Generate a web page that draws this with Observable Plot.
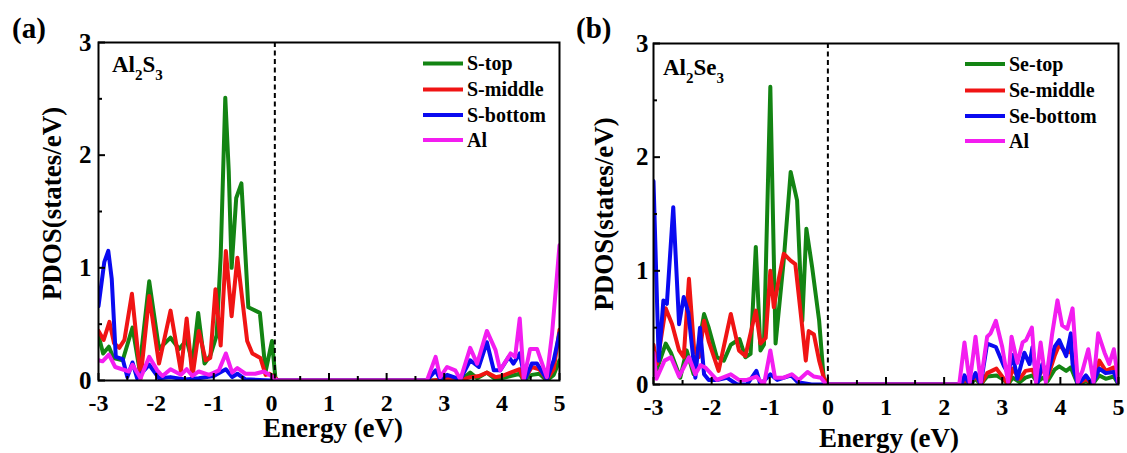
<!DOCTYPE html>
<html><head><meta charset="utf-8">
<script src="https://cdn.jsdelivr.net/npm/d3@7"></script>
<script src="https://cdn.jsdelivr.net/npm/@observablehq/plot@0.6"></script>
<style>
body{margin:0;background:#fff}
#wrap{position:relative;width:1127px;height:453px;overflow:hidden;background:#fff}
.panel{position:absolute;top:0}
#over{position:absolute;left:0;top:0;pointer-events:none}
</style></head><body><div id="wrap"></div>
<script>
// ---------- data (Energy eV, PDOS states/eV) ----------
const xTicks = [-3, -2, -1, 0, 1, 2, 3, 4, 5];
const xMinorTicks = [-2.5, -1.5, -0.5, 0.5, 1.5, 2.5, 3.5, 4.5];
const yTicks = [0, 1, 2, 3];
const yMinorTicks = [0.5, 1.5, 2.5];
const xTitle = "Energy (eV)";
const yTitle = "PDOS(states/eV)";
const colors = ["#138413", "#f01414", "#0a0af0", "#f31df0"];

// (a) Al2S3
const namesA = ["S-top", "S-middle", "S-bottom", "Al"];
const fermiA = 0.06;
const aStop = [[-3,0.40],[-2.92,0.24],[-2.82,0.30],[-2.74,0.20],[-2.58,0.18],[-2.41,0.47],[-2.29,0.10],[-2.12,0.88],[-1.95,0.28],[-1.75,0.38],[-1.60,0.28],[-1.47,0.36],[-1.37,0.15],[-1.27,0.60],[-1.16,0.15],[-1.06,0.22],[-0.95,0.40],[-0.88,1.10],[-0.80,2.51],[-0.74,1.86],[-0.69,1.00],[-0.61,1.62],[-0.52,1.75],[-0.40,0.65],[-0.20,0.60],[-0.10,0.08],[0.01,0.35],[0.07,0.02],[0.12,0],[2.80,0],[2.93,0],[3.28,0],[3.45,0.07],[3.57,0.02],[3.74,0.07],[3.89,0.01],[4.0,0.02],[4.15,0.04],[4.31,0.06],[4.38,0],[4.52,0.05],[4.65,0.06],[4.78,0],[4.90,0.05],[5.0,0.18]];
const aSmid = [[-3,0.44],[-2.91,0.36],[-2.81,0.52],[-2.73,0.33],[-2.64,0.29],[-2.55,0.36],[-2.42,0.77],[-2.27,0.02],[-2.12,0.75],[-1.95,0.15],[-1.75,0.62],[-1.57,0.08],[-1.47,0.55],[-1.37,0.03],[-1.26,0.44],[-1.14,0.18],[-1.06,0.20],[-0.97,0.81],[-0.88,0.31],[-0.79,1.15],[-0.69,0.57],[-0.59,1.09],[-0.42,0.35],[-0.33,0.24],[-0.19,0.20],[-0.10,0.05],[-0.03,0.06],[0.07,0.02],[0.12,0],[2.80,0],[3.10,0.02],[3.28,0],[3.45,0.03],[3.60,0.04],[3.74,0.07],[3.89,0.03],[4.0,0.04],[4.15,0.07],[4.31,0.10],[4.38,0],[4.52,0.12],[4.65,0.10],[4.78,0.01],[4.90,0.10],[5.0,0.45]];
const aSbot = [[-3,0.66],[-2.90,1.05],[-2.83,1.15],[-2.77,0.90],[-2.70,0.21],[-2.58,0.19],[-2.50,0.03],[-2.41,0.16],[-2.33,0.02],[-2.12,0.14],[-1.95,0.02],[-1.75,0.03],[-1.50,0.01],[-1.26,0.02],[-1.0,0.04],[-0.79,0.10],[-0.68,0.03],[-0.59,0.06],[-0.45,0.01],[0,0],[2.70,0],[2.85,0.09],[2.93,0.01],[3.05,0.05],[3.28,0.01],[3.45,0.18],[3.60,0.12],[3.74,0.34],[3.86,0.09],[3.97,0.09],[4.12,0.21],[4.20,0.15],[4.31,0.24],[4.40,0.01],[4.52,0.15],[4.61,0.15],[4.78,0.01],[4.90,0.18],[5.0,0.42]];
const aAl = [[-3,0.18],[-2.93,0.17],[-2.82,0.23],[-2.71,0.12],[-2.47,0.08],[-2.41,0.14],[-2.27,0.02],[-2.12,0.21],[-1.98,0.09],[-1.89,0.04],[-1.75,0.10],[-1.57,0.05],[-1.47,0.10],[-1.37,0.04],[-1.26,0.08],[-1.08,0.05],[-0.91,0.09],[-0.79,0.24],[-0.68,0.07],[-0.59,0.11],[-0.45,0.06],[-0.28,0.06],[-0.13,0.08],[0,0.04],[0.10,0],[2.70,0],[2.85,0.21],[2.93,0.03],[3.05,0.12],[3.19,0.09],[3.28,0.01],[3.45,0.29],[3.57,0.15],[3.74,0.44],[3.89,0.27],[3.97,0.09],[4.15,0.24],[4.23,0.21],[4.31,0.55],[4.38,0.01],[4.49,0.28],[4.61,0.28],[4.78,0.03],[4.87,0.41],[5.0,1.20]];

// (b) Al2Se3
const namesB = ["Se-top", "Se-middle", "Se-bottom", "Al"];
const fermiB = 0.0;
const bSetop = [[-3,0.20],[-2.95,0.12],[-2.79,0.36],[-2.70,0.28],[-2.54,0.06],[-2.43,0.30],[-2.31,0.09],[-2.13,0.62],[-2.05,0.50],[-1.91,0.24],[-1.79,0.21],[-1.67,0.35],[-1.52,0.40],[-1.42,0.24],[-1.33,0.27],[-1.24,1.21],[-1.16,0.30],[-1.10,0.35],[-0.99,2.62],[-0.90,0.36],[-0.76,1.09],[-0.64,1.87],[-0.53,1.62],[-0.44,0.56],[-0.37,1.37],[-0.27,1.03],[-0.15,0.56],[-0.07,0.04],[0,0],[2.30,0],[2.35,0.03],[2.44,0],[2.54,0.05],[2.63,0],[2.74,0.07],[2.90,0.08],[3.03,0.04],[3.10,0],[3.18,0.06],[3.30,0.02],[3.40,0.06],[3.52,0.08],[3.60,0.02],[3.70,0.06],[3.78,0.03],[3.90,0.13],[3.98,0.16],[4.10,0.12],[4.18,0.15],[4.30,0],[4.44,0.03],[4.55,0],[4.67,0.08],[4.78,0.05],[4.92,0.07],[5.0,0]];
const bSemid = [[-3,0.35],[-2.94,0.18],[-2.79,0.67],[-2.68,0.53],[-2.56,0.30],[-2.48,0.24],[-2.39,0.93],[-2.30,0.30],[-2.22,0.24],[-2.13,0.56],[-2.05,0.38],[-1.88,0.12],[-1.67,0.62],[-1.53,0.30],[-1.42,0.25],[-1.24,0.65],[-1.16,0.36],[-1.07,0.41],[-0.99,1.00],[-0.93,0.68],[-0.84,0.94],[-0.76,1.15],[-0.64,1.09],[-0.56,1.06],[-0.44,0.50],[-0.38,0.21],[-0.33,0.47],[-0.24,0.44],[-0.15,0.21],[-0.07,0.06],[0,0],[2.30,0],[2.35,0.05],[2.44,0],[2.54,0.08],[2.63,0],[2.74,0.10],[2.90,0.14],[3.03,0.05],[3.10,0],[3.18,0.14],[3.30,0.05],[3.40,0.12],[3.52,0.13],[3.60,0.04],[3.70,0.14],[3.78,0.06],[3.90,0.25],[3.98,0.35],[4.10,0.28],[4.18,0.30],[4.30,0],[4.44,0.05],[4.55,0],[4.67,0.21],[4.78,0.12],[4.92,0.15],[5.0,0]];
const bSebot = [[-3,1.79],[-2.91,0.21],[-2.83,0.74],[-2.77,0.71],[-2.66,1.56],[-2.56,0.53],[-2.48,0.77],[-2.40,0.63],[-2.28,0.06],[-2.20,0.50],[-2.13,0.09],[-2.05,0.04],[-1.91,0.04],[-1.74,0.06],[-1.56,0],[-1.39,0],[-1.23,0.12],[-1.16,0],[-0.99,0.09],[-0.87,0.04],[-0.63,0.08],[-0.52,0.02],[-0.28,0],[2.30,0],[2.35,0.08],[2.44,0],[2.54,0.10],[2.63,0],[2.74,0.36],[2.89,0.33],[3.03,0.16],[3.10,0.10],[3.18,0.26],[3.26,0.05],[3.38,0.28],[3.47,0.18],[3.52,0.33],[3.60,0],[3.69,0.18],[3.78,0.09],[3.90,0.33],[3.98,0.39],[4.10,0.25],[4.18,0.45],[4.21,0.18],[4.30,0],[4.44,0.08],[4.55,0],[4.67,0.14],[4.78,0.10],[4.92,0.11],[5.0,0]];
const bAl = [[-3,0.28],[-2.95,0.05],[-2.81,0.21],[-2.70,0.24],[-2.56,0.07],[-2.39,0.24],[-2.28,0.09],[-2.19,0.17],[-2.11,0.15],[-1.91,0.04],[-1.67,0.09],[-1.53,0.04],[-1.39,0.04],[-1.23,0.07],[-1.10,0],[-0.99,0.30],[-0.91,0.06],[-0.76,0.06],[-0.62,0.09],[-0.50,0.04],[-0.35,0.11],[-0.24,0.07],[-0.12,0.06],[-0.03,0],[2.26,0],[2.35,0.37],[2.44,0.02],[2.54,0.42],[2.63,0.02],[2.74,0.42],[2.80,0.45],[2.89,0.56],[3.0,0.33],[3.10,0.02],[3.16,0.42],[3.26,0.19],[3.35,0.37],[3.41,0.39],[3.51,0.50],[3.58,0.02],[3.66,0.37],[3.75,0.02],[3.86,0.45],[3.95,0.74],[4.03,0.52],[4.12,0.49],[4.21,0.67],[4.30,0.02],[4.38,0.12],[4.48,0.31],[4.57,0.02],[4.65,0.45],[4.76,0.28],[4.84,0.18],[4.92,0.31],[5.0,0.02]];

// ---------- drawing ----------
const FONT = "'Liberation Serif','Times New Roman',serif";
const H = 453;

function makePanel(cfg) {
  const innerH = H - cfg.mt - cfg.mb;
  const innerW = cfg.width - cfg.ml - cfg.mr;
  const series = cfg.series.map((pts, i) => ({pts, color: colors[i]}));
  return Plot.plot({
    width: cfg.width, height: H,
    marginLeft: cfg.ml, marginRight: cfg.mr, marginTop: cfg.mt, marginBottom: cfg.mb,
    x: {domain: [-3, 5]},
    y: {domain: [0, 3]},
    style: {fontFamily: FONT, fontWeight: "bold", fontSize: "25px", color: "black", background: "transparent", overflow: "visible"},
    marks: [
      ...series.map(s => Plot.line(s.pts, {x: d => d[0], y: d => d[1], stroke: s.color, strokeWidth: 4, strokeLinejoin: "round", clip: true})),
      Plot.ruleX([cfg.fermi], {x: d => d, stroke: "black", strokeWidth: 2, strokeDasharray: "5,3.5"}),
      Plot.tickX(xTicks, {x: d => d, insetTop: innerH - 7, strokeWidth: 2}),
      Plot.tickX(xMinorTicks, {x: d => d, insetTop: innerH - 4, strokeWidth: 2}),
      Plot.tickY(yTicks, {y: d => d, insetRight: innerW - 7, strokeWidth: 2}),
      Plot.tickY(yMinorTicks, {y: d => d, insetRight: innerW - 4, strokeWidth: 2}),
      Plot.axisX({ticks: xTicks, tickSize: 0, tickPadding: 13, fontSize: 24, tickFormat: d => String(d), label: null}),
      Plot.axisY({ticks: yTicks, tickSize: 0, tickPadding: cfg.yPad, fontSize: 25, tickFormat: d => String(d), label: null}),
      Plot.frame({stroke: "black", strokeWidth: 2}),
      Plot.text([xTitle], {text: d => d, frameAnchor: "bottom", textAnchor: "middle", lineAnchor: "middle", dy: cfg.xTitleDy, dx: cfg.xTitleDx, fontSize: 27}),
      Plot.text([yTitle], {text: d => d, frameAnchor: "left", textAnchor: "middle", lineAnchor: "middle", dx: cfg.yTitleDx, dy: cfg.yTitleDy, rotate: -90, fontSize: 27})
    ]
  });
}

const wrap = document.getElementById("wrap");
function place(svg, left, width) {
  const d = document.createElement("div");
  d.className = "panel";
  d.style.left = left + "px";
  d.style.width = width + "px";
  d.appendChild(svg);
  wrap.appendChild(d);
}

place(makePanel({width: 563, ml: 98, mr: 4, mt: 42, mb: 73, fermi: fermiA,
  series: [aStop, aSmid, aSbot, aAl], yPad: 7, xTitleDy: 48, xTitleDx: 4, yTitleDx: -46, yTitleDy: -8}), 0, 563);
place(makePanel({width: 564, ml: 90, mr: 9, mt: 43, mb: 69, fermi: fermiB,
  series: [bSetop, bSemid, bSebot, bAl], yPad: 5, xTitleDy: 54, xTitleDx: 3, yTitleDx: -49, yTitleDy: 0}), 563, 564);

// overlay: panel letters, compound labels, legends
const over = d3.select(wrap).append("svg").attr("id", "over")
  .attr("width", 1127).attr("height", H)
  .style("font-family", FONT).style("font-weight", "bold");

over.append("text").attr("x", 12).attr("y", 38).attr("font-size", 29).text("(a)");
over.append("text").attr("x", 576).attr("y", 38).attr("font-size", 29).text("(b)");

function compound(x, y, parts) {
  const t = over.append("text").attr("x", x).attr("y", y).attr("font-size", 23);
  let sub = false;
  parts.forEach(p => {
    const isSub = /^[0-9]$/.test(p);
    const ts = t.append("tspan").text(p).attr("font-size", isSub ? 15 : 23);
    if (isSub && !sub) ts.attr("dy", 8);
    if (!isSub && sub) ts.attr("dy", -8);
    sub = isSub;
  });
}
compound(112, 72, ["Al", "2", "S", "3"]);
compound(663, 75, ["Al", "2", "Se", "3"]);

function legend(x0, x1, tx, ys, names) {
  names.forEach((n, i) => {
    over.append("line").attr("x1", x0).attr("x2", x1).attr("y1", ys[i]).attr("y2", ys[i])
      .attr("stroke", colors[i]).attr("stroke-width", 4);
    over.append("text").attr("x", tx).attr("y", ys[i] + 6.5).attr("font-size", 20).text(n);
  });
}
legend(423, 463, 467, [63.5, 89.5, 115, 140], namesA);
legend(965, 1005, 1009, [64, 90.5, 116, 141], namesB);
</script></body></html>
